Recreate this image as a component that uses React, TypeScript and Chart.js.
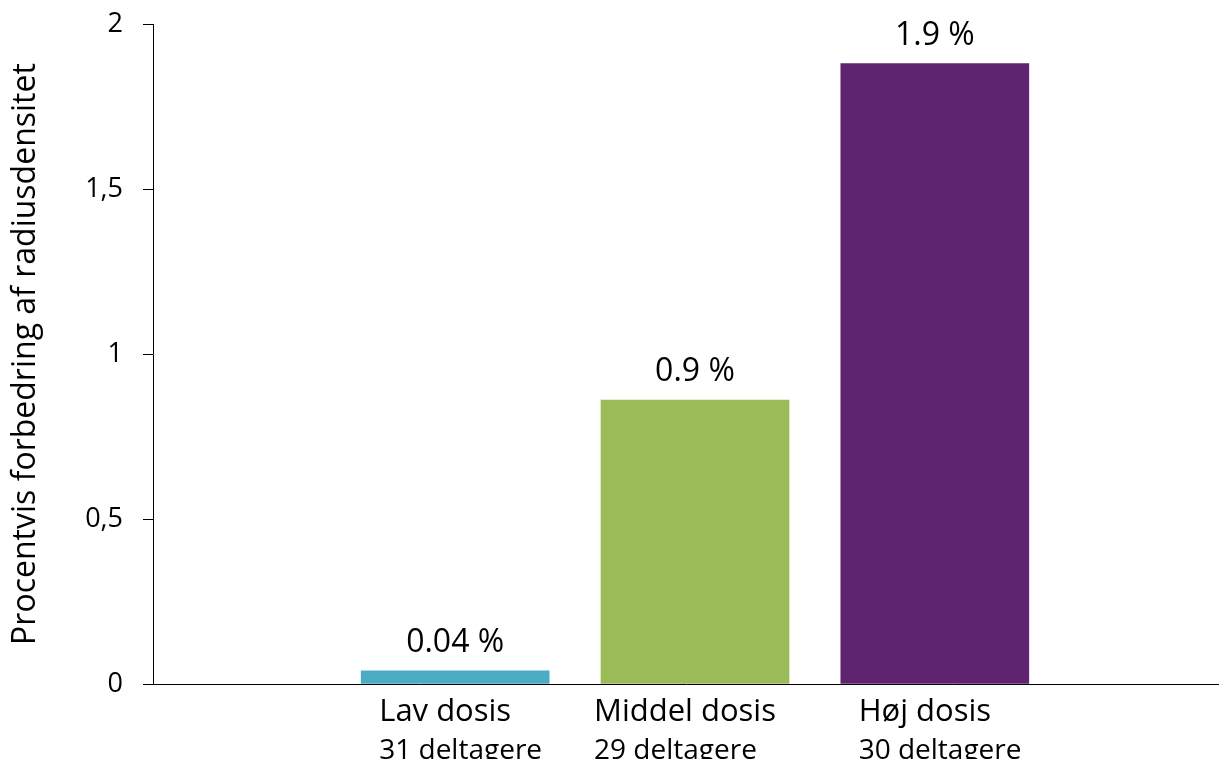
import React, { useEffect, useRef } from 'react';
import { Chart, registerables } from 'chart.js';

Chart.register(...registerables);

const categories = ['Lav dosis', 'Middel dosis', 'Høj dosis'];
const participants = ['31 deltagere', '29 deltagere', '30 deltagere'];
const categoryPositions = [1, 2, 3];
const values = [0.04, 0.86, 1.88];
const valueLabels = ['0.04 %', '0.9 %', '1.9 %'];
const barColors = ['#4BACC6', '#9BBB59', '#60236F'];
const yTicks = [0, 0.5, 1, 1.5, 2];
const yTickLabels = ['0', '0,5', '1', '1,5', '2'];
const yTitle = 'Procentvis forbedring af radiusdensitet';

const FONT = "'Open Sans', 'Noto Sans', sans-serif";
const CAT_FONT_SIZE = 31;
const LABEL_OFFSET = -10;

const labelsPlugin = {
  id: 'barAndSubLabels',
  afterDatasetsDraw(chart: any) {
    const ctx = chart.ctx;
    const meta = chart.getDatasetMeta(0);
    ctx.save();
    ctx.fillStyle = '#000';
    ctx.font = `32px ${FONT}`;
    ctx.textAlign = 'center';
    ctx.textBaseline = 'alphabetic';
    meta.data.forEach((bar: any, i: number) => {
      ctx.fillText(valueLabels[i], bar.x, bar.y - 19);
    });
    const xs = chart.scales.x;
    categoryPositions.forEach((pos, i) => {
      ctx.font = `${CAT_FONT_SIZE}px ${FONT}`;
      const w = ctx.measureText(categories[i]).width;
      const left = xs.getPixelForValue(pos) + LABEL_OFFSET - w / 2;
      ctx.font = `28px ${FONT}`;
      ctx.textAlign = 'left';
      ctx.fillText(participants[i], left, xs.top + 75);
    });
    ctx.restore();
  },
};

export default function App() {
  const ref = useRef<HTMLCanvasElement | null>(null);

  useEffect(() => {
    if (!ref.current) return;
    const chart = new Chart(ref.current, {
      type: 'bar',
      data: {
        datasets: [
          {
            data: values.map((v, i) => ({ x: categoryPositions[i], y: v })),
            backgroundColor: barColors,
            borderWidth: 0,
            barThickness: 188,
          },
        ],
      },
      options: {
        responsive: false,
        animation: false,
        layout: { padding: { top: 24, right: 0, bottom: 0, left: 0 } },
        plugins: {
          legend: { display: false },
          tooltip: { enabled: false },
        },
        scales: {
          x: {
            type: 'linear',
            min: -0.26,
            max: 4.185,
            offset: false,
            afterBuildTicks: (s: any) => {
              s.ticks = categoryPositions.map((v) => ({ value: v }));
            },
            afterFit: (s: any) => {
              s.height = 75;
              s.paddingLeft = 0;
              s.paddingRight = 0;
            },
            grid: { display: false, drawTicks: false, offset: false },
            border: { display: true, color: '#000', width: 1 },
            ticks: {
              autoSkip: false,
              maxRotation: 0,
              minRotation: 0,
              padding: 10,
              labelOffset: LABEL_OFFSET,
              color: '#000',
              font: { family: FONT, size: CAT_FONT_SIZE },
              callback: (v: any) => {
                const idx = categoryPositions.indexOf(Number(v));
                return idx >= 0 ? categories[idx] : '';
              },
            },
          },
          y: {
            type: 'linear',
            min: 0,
            max: 2,
            afterBuildTicks: (s: any) => {
              s.ticks = yTicks.map((v) => ({ value: v }));
            },
            afterFit: (s: any) => {
              s.width = 153;
              s.paddingTop = 0;
              s.paddingBottom = 0;
            },
            grid: { drawOnChartArea: false, drawTicks: true, tickLength: 10, color: '#000' },
            border: { display: true, color: '#000', width: 1 },
            ticks: {
              padding: 20,
              color: '#000',
              font: { family: FONT, size: 27 },
              callback: (v: any) => {
                const idx = yTicks.indexOf(Number(v));
                return idx >= 0 ? yTickLabels[idx] : '';
              },
            },
            title: {
              display: true,
              text: yTitle,
              color: '#000',
              font: { family: FONT, size: 32 },
              padding: { top: 7, bottom: 0 },
            },
          },
        },
      },
      plugins: [labelsPlugin],
    } as any);
    return () => chart.destroy();
  }, []);

  return (
    <div style={{ position: 'fixed', left: 0, top: 0, width: 1219, height: 759, background: '#fff' }}>
      <canvas ref={ref} width={1219} height={759} style={{ display: 'block' }} />
    </div>
  );
}
